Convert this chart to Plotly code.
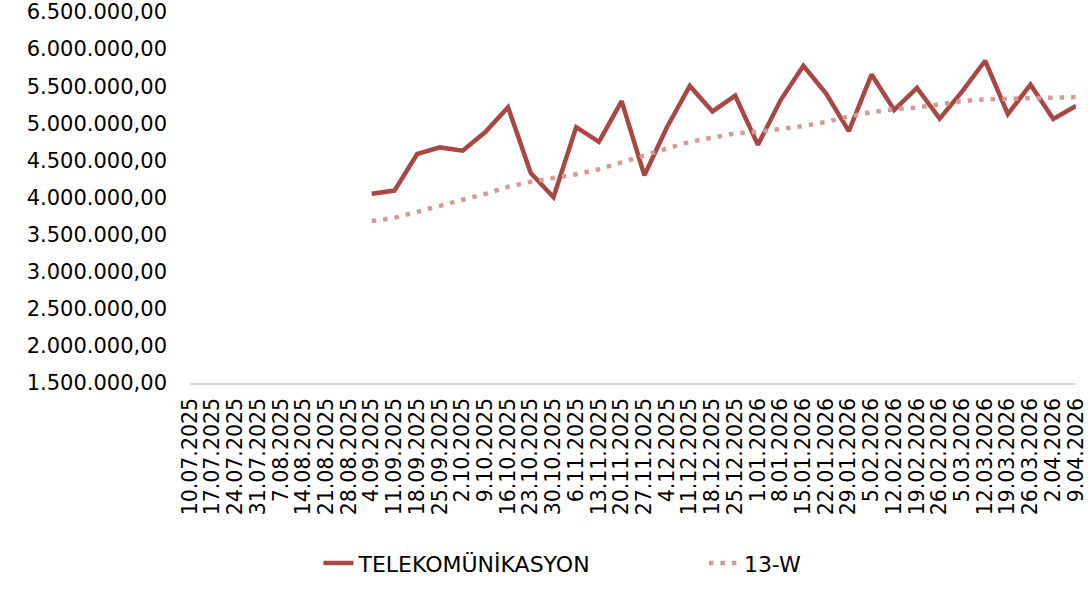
import plotly.graph_objects as go

dates = ["10.07.2025","17.07.2025","24.07.2025","31.07.2025","7.08.2025","14.08.2025",
         "21.08.2025","28.08.2025","4.09.2025","11.09.2025","18.09.2025","25.09.2025",
         "2.10.2025","9.10.2025","16.10.2025","23.10.2025","30.10.2025","6.11.2025",
         "13.11.2025","20.11.2025","27.11.2025","4.12.2025","11.12.2025","18.12.2025",
         "25.12.2025","1.01.2026","8.01.2026","15.01.2026","22.01.2026","29.01.2026",
         "5.02.2026","12.02.2026","19.02.2026","26.02.2026","5.03.2026","12.03.2026",
         "19.03.2026","26.03.2026","2.04.2026","9.04.2026"]

telekom = [None]*8 + [
    4050000, 4093000, 4586000, 4675000, 4631000, 4882000, 5217000, 4331000,
    4004000, 4948000, 4750000, 5300000, 4300000, 4950000, 5504000, 5160000,
    5372000, 4710000, 5313000, 5776000, 5402000, 4895000, 5657000, 5181000,
    5477000, 5062000, 5433000, 5843000, 5124000, 5521000, 5058000, 5234000]

w13 = [None]*8 + [
    3682000, 3726000, 3806000, 3881000, 3970000, 4049000, 4145000, 4212000,
    4256000, 4313000, 4380000, 4476000, 4578000, 4661000, 4750000, 4807000,
    4864000, 4886000, 4917000, 4962000, 5018000, 5094000, 5151000, 5190000,
    5213000, 5257000, 5300000, 5323000, 5327000, 5336000, 5349000, 5353000]

y_ticks = [1500000, 2000000, 2500000, 3000000, 3500000, 4000000,
           4500000, 5000000, 5500000, 6000000, 6500000]

font_family = "DejaVu Sans"

fig = go.Figure()
fig.add_trace(go.Scatter(
    x=dates, y=telekom, name="TELEKOMÜNİKASYON", mode="lines",
    line=dict(color="#A84744", width=4.5), connectgaps=False, legend="legend"))
fig.add_trace(go.Scatter(
    x=dates, y=w13, name="13-W", mode="lines",
    line=dict(color="#D49A98", width=4.5, dash="4.5px,7px"), connectgaps=False,
    legend="legend2"))

fig.update_layout(
    width=1088, height=596,
    margin=dict(l=190, r=12, t=12, b=205),
    paper_bgcolor="white", plot_bgcolor="white",
    separators=",.",
    font=dict(family=font_family, size=19, color="#000000"),
    showlegend=True,
    legend=dict(orientation="h", x=0.145, xanchor="left", y=-0.4855, yanchor="middle",
                font=dict(size=22)),
    legend2=dict(orientation="h", x=0.580, xanchor="left", y=-0.4855, yanchor="middle",
                 font=dict(size=22)),
    xaxis=dict(type="category", range=[0, 39], tickangle=-90, showgrid=False,
               tickmode="array", tickvals=dates, ticktext=dates,
               showline=True, linecolor="#D9D9D9", linewidth=1.5, ticks="",
               tickfont=dict(size=20.5), ticklabelstandoff=5,
               automargin=False, fixedrange=True),
    yaxis=dict(range=[1499990, 6500010], tickvals=y_ticks, tickformat=",.2f",
               showgrid=False, zeroline=False, showline=False, ticks="",
               tickfont=dict(size=21), ticklabelstandoff=22, automargin=False),
)

fig.write_html("out.html", config={"displayModeBar": False},
               post_script="document.body.style.margin='0';document.body.style.overflow='hidden';")
